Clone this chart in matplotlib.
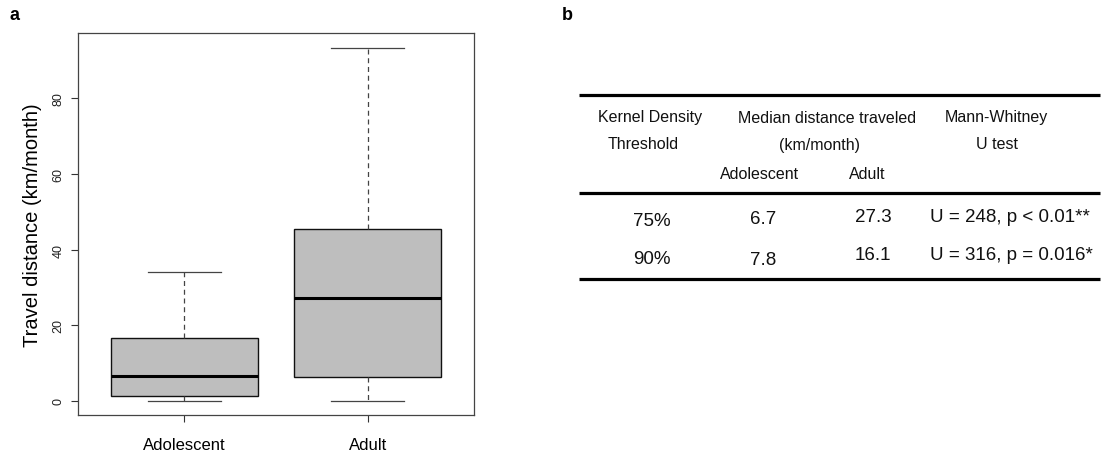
import matplotlib
matplotlib.use('Agg')
import matplotlib.pyplot as plt

plt.rcParams['font.family'] = ['Liberation Sans', 'DejaVu Sans']

# Panel a: box plot summary (km/month)
groups = ['Adolescent', 'Adult']
whis_lo = [0.0, 0.0]
q1 = [1.2, 6.4]
medians = [6.7, 27.3]
q3 = [16.6, 45.5]
whis_hi = [34.1, 93.4]
y_ticks = [0, 20, 40, 60, 80]

# Panel b: table values
thresholds = ['75%', '90%']
med_adolescent = [6.7, 7.8]
med_adult = [27.3, 16.1]
u_stat = [248, 316]
p_text = ['p < 0.01**', 'p = 0.016*']

fig = plt.figure(figsize=(11.02, 4.56), dpi=100)

# ---- panel a ----
ax = fig.add_axes([78 / 1102, 1 - 416 / 456, 396 / 1102, 382 / 456])
stats = []
for i, g in enumerate(groups):
    stats.append(dict(label=g, whislo=whis_lo[i], q1=q1[i], med=medians[i],
                      q3=q3[i], whishi=whis_hi[i], fliers=[]))

ax.bxp(stats, positions=[1, 2], widths=0.8, capwidths=0.4, patch_artist=True,
       showfliers=False,
       boxprops=dict(facecolor='#bebebe', edgecolor='#111111', linewidth=1.0),
       medianprops=dict(color='black', linewidth=2.2),
       whiskerprops=dict(color='#444444', linewidth=0.9, linestyle=(0, (4, 3))),
       capprops=dict(color='#444444', linewidth=0.9))

ax.set_xlim(0.42, 2.58)
ax.set_ylim(-3.74, 97.24)
ax.set_yticks(y_ticks)
ax.set_yticklabels([str(t) for t in y_ticks], rotation=90, va='center')
ax.tick_params(axis='y', length=5, width=0.8, labelsize=9, pad=4.5,
               color='#333333', labelcolor='#222222')
ax.tick_params(axis='x', length=5, width=0.8, labelsize=12, pad=10.5,
               color='#333333')
for s in ax.spines.values():
    s.set_color('#444444')
    s.set_linewidth(0.9)
ax.set_ylabel('Travel distance (km/month)', fontsize=14.5)
ax.yaxis.set_label_coords(-0.09, 0.5)

fig.text(14 / 1102, 1 - 15 / 456, 'a', fontsize=13, fontweight='bold',
         ha='center', va='center')

# ---- panel b: table ----
fig.text(567 / 1102, 1 - 15 / 456, 'b', fontsize=13, fontweight='bold',
         ha='center', va='center')

tab = fig.add_axes([0, 0, 1, 1])
tab.set_xlim(0, 1102)
tab.set_ylim(456, 0)
tab.axis('off')

for yr in [96, 194, 280]:
    tab.plot([579, 1100], [yr, yr], color='black', linewidth=2.3,
             solid_capstyle='butt')

hdr = dict(fontsize=11.5, ha='center', va='center', color='#111111')
tab.text(650, 118, 'Kernel Density', **hdr)
tab.text(643, 145, 'Threshold', **hdr)
tab.text(827, 119, 'Median distance traveled', **hdr)
tab.text(820, 146, '(km/month)', **hdr)
tab.text(760, 175, 'Adolescent', **hdr)
tab.text(867, 175, 'Adult', **hdr)
tab.text(996, 118, 'Mann-Whitney', **hdr)
tab.text(997, 145, 'U test', **hdr)

row_y = [221, 259]
cell = dict(fontsize=13.5, ha='center', va='center', color='#111111')
for i in range(len(thresholds)):
    y = row_y[i]
    tab.text(652, y + 1, thresholds[i], **cell)
    tab.text(763, y - 1 + 3 * i, f'{med_adolescent[i]:.1f}', **cell)
    tab.text(873, y - 3, f'{med_adult[i]:.1f}', **cell)
    tab.text(930, y - 3, f'U = {u_stat[i]}, {p_text[i]}', fontsize=13.5,
             ha='left', va='center', color='#111111')

fig.savefig('out.png', dpi=100)
